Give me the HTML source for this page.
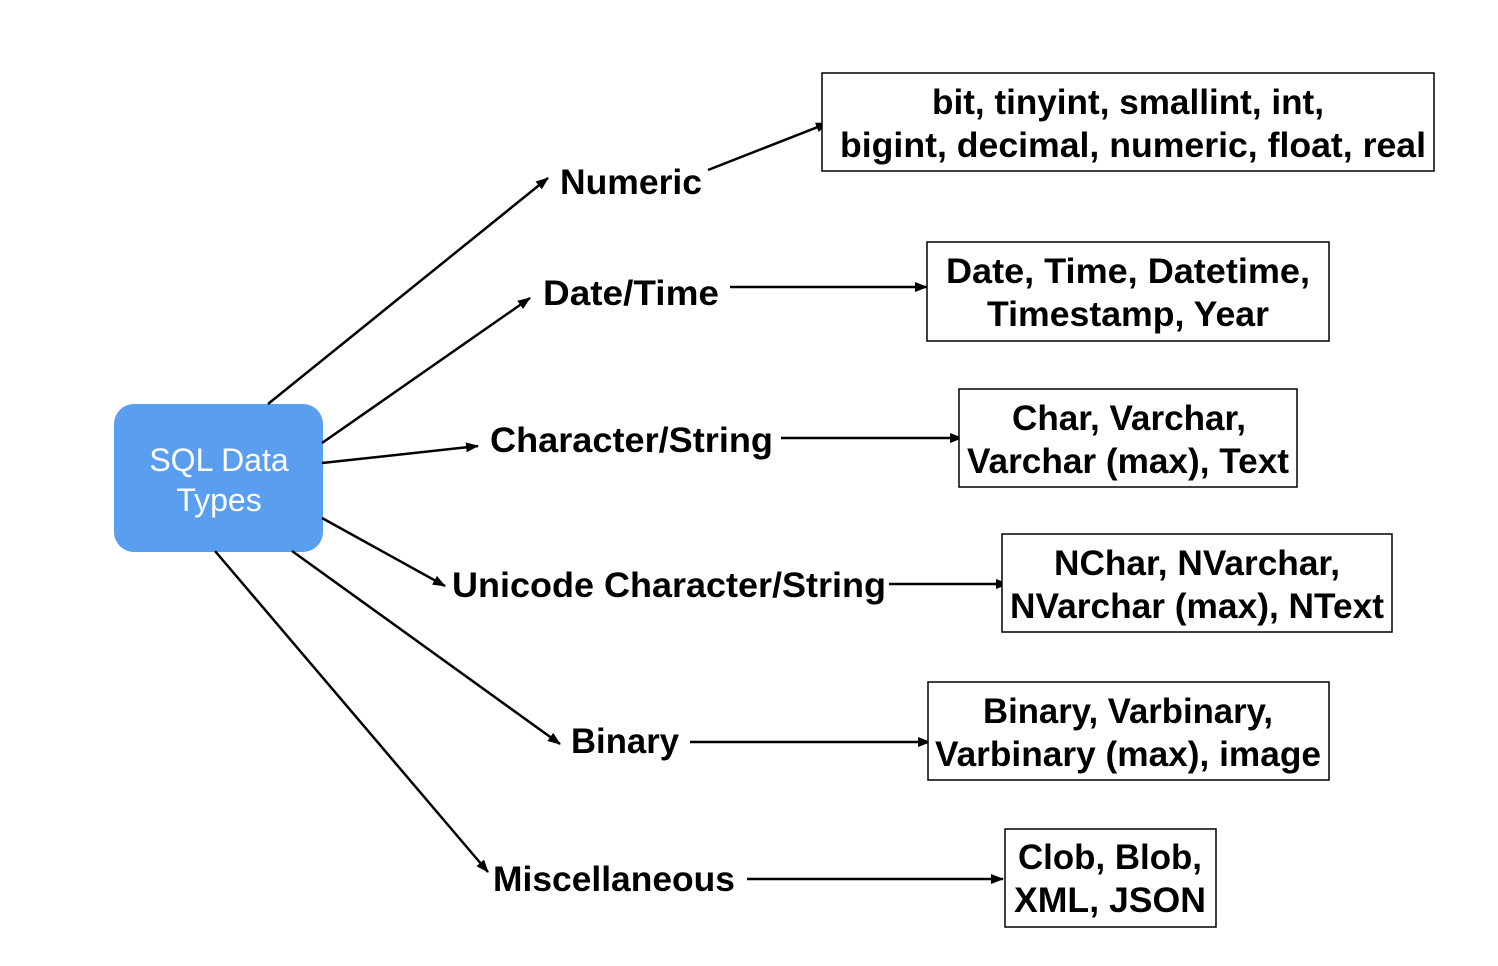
<!DOCTYPE html>
<html><head><meta charset="utf-8"><style>
html,body{margin:0;padding:0;background:#fff;}
svg{display:block;}
text{font-family:"Liberation Sans",Arial,sans-serif;}
.l{font-weight:bold;font-size:35px;fill:#000;}
.b{font-weight:bold;font-size:35px;fill:#000;text-anchor:middle;}
</style></head><body>
<svg width="1498" height="966" viewBox="0 0 1498 966" xmlns="http://www.w3.org/2000/svg">
<defs><marker id="a" markerWidth="13" markerHeight="12" refX="12" refY="6" orient="auto" markerUnits="userSpaceOnUse"><path d="M0,1 L13,6 L0,11 Z" fill="#000"/></marker></defs>
<rect x="114" y="404" width="209" height="148" rx="20" fill="#5a9ef0"/>
<text x="219" y="471" fill="#fff" font-size="32" text-anchor="middle">SQL Data</text>
<text x="219" y="511" fill="#fff" font-size="32" text-anchor="middle">Types</text>
<g stroke="#000" stroke-width="2.5" fill="none" marker-end="url(#a)">
<line x1="268" y1="404" x2="548" y2="178"/>
<line x1="322" y1="443" x2="530" y2="298"/>
<line x1="322" y1="463" x2="478" y2="446"/>
<line x1="322" y1="518" x2="445" y2="586"/>
<line x1="292" y1="551" x2="560" y2="744"/>
<line x1="215" y1="551" x2="488" y2="872"/>
<line x1="708" y1="170" x2="828" y2="123"/>
<line x1="730" y1="287" x2="927" y2="287"/>
<line x1="781" y1="438" x2="962" y2="438"/>
<line x1="889" y1="584" x2="1008" y2="584"/>
<line x1="690" y1="742" x2="930" y2="742"/>
<line x1="747" y1="879" x2="1003" y2="879"/>
</g>
<text class="l" x="560" y="194" textLength="142" lengthAdjust="spacingAndGlyphs">Numeric</text>
<text class="l" x="543" y="305" textLength="176" lengthAdjust="spacingAndGlyphs">Date/Time</text>
<text class="l" x="490" y="452" textLength="283" lengthAdjust="spacingAndGlyphs">Character/String</text>
<text class="l" x="452" y="597" textLength="434" lengthAdjust="spacingAndGlyphs">Unicode Character/String</text>
<text class="l" x="571" y="753" textLength="108" lengthAdjust="spacingAndGlyphs">Binary</text>
<text class="l" x="493" y="891" textLength="242" lengthAdjust="spacingAndGlyphs">Miscellaneous</text>
<g fill="#fff" stroke="#000" stroke-width="1.5">
<rect x="822" y="73" width="612" height="98"/>
<rect x="927" y="242" width="402" height="99"/>
<rect x="959" y="389" width="338" height="98"/>
<rect x="1002" y="534" width="390" height="98"/>
<rect x="928" y="682" width="401" height="98"/>
<rect x="1005" y="829" width="211" height="98"/>
</g>
<g>
<text class="b" x="1128" y="114" textLength="392" lengthAdjust="spacingAndGlyphs">bit, tinyint, smallint, int,</text>
<text class="b" x="1133" y="157" textLength="586" lengthAdjust="spacingAndGlyphs">bigint, decimal, numeric, float, real</text>
<text class="b" x="1128" y="283" textLength="364" lengthAdjust="spacingAndGlyphs">Date, Time, Datetime,</text>
<text class="b" x="1128" y="326" textLength="282" lengthAdjust="spacingAndGlyphs">Timestamp, Year</text>
<text class="b" x="1129" y="430" textLength="234" lengthAdjust="spacingAndGlyphs">Char, Varchar,</text>
<text class="b" x="1128" y="473" textLength="322" lengthAdjust="spacingAndGlyphs">Varchar (max), Text</text>
<text class="b" x="1197" y="575" textLength="286" lengthAdjust="spacingAndGlyphs">NChar, NVarchar,</text>
<text class="b" x="1197" y="618" textLength="374" lengthAdjust="spacingAndGlyphs">NVarchar (max), NText</text>
<text class="b" x="1128" y="723" textLength="290" lengthAdjust="spacingAndGlyphs">Binary, Varbinary,</text>
<text class="b" x="1128" y="766" textLength="386" lengthAdjust="spacingAndGlyphs">Varbinary (max), image</text>
<text class="b" x="1110" y="869" textLength="184" lengthAdjust="spacingAndGlyphs">Clob, Blob,</text>
<text class="b" x="1110" y="912" textLength="192" lengthAdjust="spacingAndGlyphs">XML, JSON</text>
</g>
</svg>
</body></html>
